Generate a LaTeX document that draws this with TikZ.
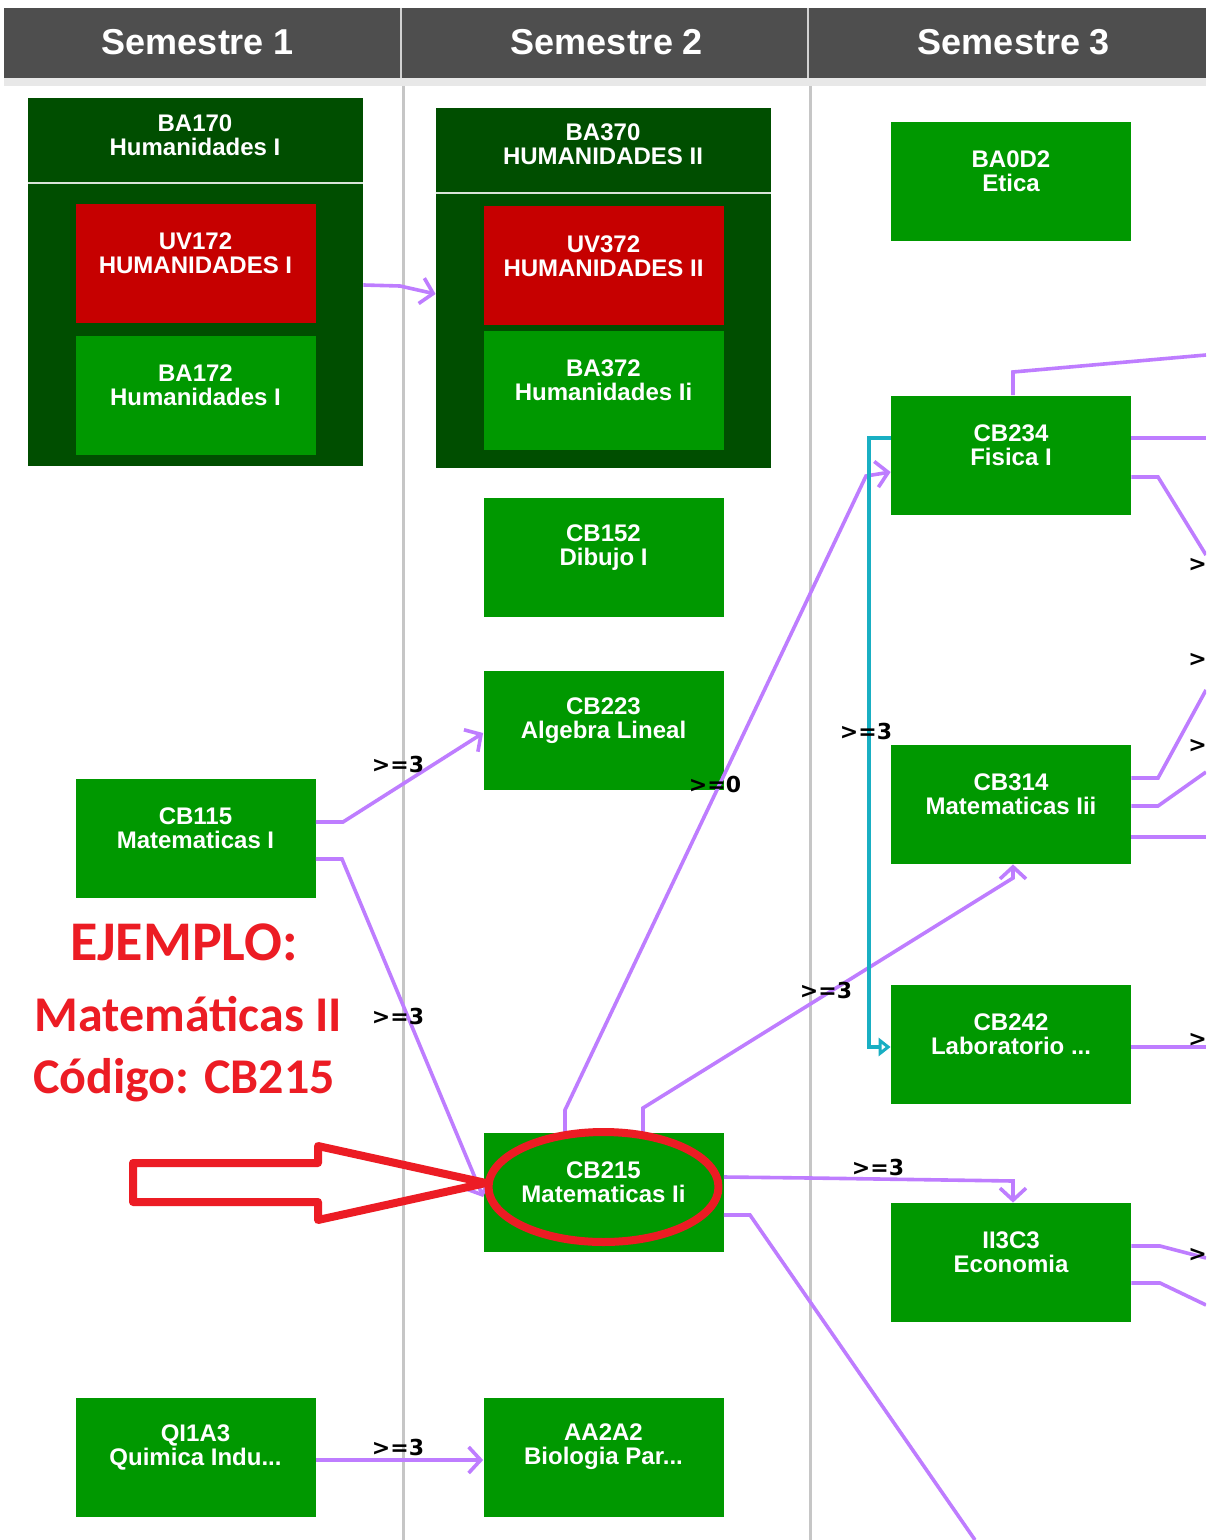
\documentclass[tikz,border=0pt]{standalone}
\usepackage{fontspec}
\setmainfont{Liberation Sans}
\newfontfamily\calibri{Carlito}
\newfontfamily\dejavu{DejaVu Sans}
\usetikzlibrary{arrows.meta,positioning}

\definecolor{verde}{RGB}{0,152,0}
\definecolor{verdeosc}{RGB}{0,78,0}
\definecolor{rojo}{RGB}{198,0,0}
\definecolor{lila}{RGB}{190,125,255}
\definecolor{turq}{RGB}{25,175,195}
\definecolor{gris}{RGB}{78,78,78}
\definecolor{rojoej}{RGB}{236,28,36}

% course box: [colour]{name}{x,y}{code}{title}
\newcommand{\curso}[5][verde]{%
  \node[curso,fill=#1] (#2) at (#3) {};
  \node[cursotxt] (#2-t) at ([yshift=5pt]#2.center) {#4\\#5};
}

\begin{document}
\begin{tikzpicture}[x=0.5pt,y=-0.5pt,
  curso/.style={rectangle,minimum width=120pt,minimum height=59.5pt,inner sep=0pt},
  grupo/.style={rectangle,fill=verdeosc,minimum width=167.5pt,inner sep=0pt},
  cursotxt/.style={text=white,font=\bfseries\fontsize{12}{12}\selectfont,align=center,inner sep=0pt},
  semtxt/.style={text=white,font=\bfseries\fontsize{18}{18}\selectfont},
  etiq/.style={font=\dejavu\bfseries\fontsize{11}{11}\selectfont,inner sep=0pt},
  pre/.style={draw=lila,line width=1.8pt},
  flecha/.style={pre,-{Straight Barb[length=6pt,width=13pt]}},
  enlace/.style={draw=turq,line width=1.6pt,-{Triangle[open,length=6pt,width=9pt]}},
  ejtxt/.style={text=rojoej,font=\calibri\bfseries\fontsize{25}{25}\selectfont,anchor=base,inner sep=0pt},
  marca/.style={draw=rojoej,line width=4pt,line join=round}]

\clip (0,0) rectangle (1206,1540);
\fill[white] (0,0) rectangle (1206,1540);

% Header
\fill[gris] (4,8) rectangle (1206,78);
\fill[gray!18] (4,78) rectangle (1206,86);
\draw[gray!35,line width=1pt] (401,8) -- (401,78) (808,8) -- (808,78);
\foreach \x/\n in {198/1,607/2,1014/3}
  \node[semtxt] (sem\n) at (\x,42) {Semestre \n};

% Column lines
\draw[gray!45,line width=1.5pt] (403,86) -- (403,1540) (810,86) -- (810,1540);

% Semestre 1
\node[grupo,minimum height=184pt] (ba170) at (195.5,282) {};
\draw[white!85!verdeosc,line width=1pt] (ba170.west |- 0,183) -- (ba170.east |- 0,183);
\node[cursotxt] (ba170-t) at (195,135) {BA170\\Humanidades I};
\curso[rojo]{uv172}{195.5,263.5}{UV172}{HUMANIDADES I}
\curso{ba172}{195.5,395.5}{BA172}{Humanidades I}
\curso{cb115}{195.5,838}{CB115}{Matematicas I}
\curso{qi1a3}{195.5,1457}{QI1A3}{Quimica Indu...}

% Semestre 2
\node[grupo,minimum height=180pt] (ba370) at (603.5,288) {};
\draw[white!85!verdeosc,line width=1pt] (ba370.west |- 0,193) -- (ba370.east |- 0,193);
\node[cursotxt] (ba370-t) at (603,144) {BA370\\HUMANIDADES II};
\curso[rojo]{uv372}{603.5,266}{UV372}{HUMANIDADES II}
\curso{ba372}{603.5,390.5}{BA372}{Humanidades Ii}
\curso{cb152}{603.5,557.5}{CB152}{Dibujo I}
\curso{cb223}{603.5,730.5}{CB223}{Algebra Lineal}
\curso{cb215}{603.5,1192.5}{CB215}{Matematicas Ii}
\curso{aa2a2}{603.5,1457}{AA2A2}{Biologia Par...}

% Semestre 3
\curso{ba0d2}{1011,181.5}{BA0D2}{Etica}
\curso{cb234}{1011,455}{CB234}{Fisica I}
\curso{cb314}{1011,804.5}{CB314}{Matematicas Iii}
\curso{cb242}{1011,1044.5}{CB242}{Laboratorio ...}
\curso{ii3c3}{1011,1262.5}{II3C3}{Economia}

% Exits at the right and bottom edge
\coordinate (o1) at (1206,355);
\coordinate (o2) at (1206,438);
\coordinate (o3) at (1206,555);
\coordinate (o4) at (1206,690);
\coordinate (o5) at (1206,772);
\coordinate (o6) at (1206,837);
\coordinate (o7) at (1206,1047);
\coordinate (o8) at (1206,1258);
\coordinate (o9) at (1206,1305);
\coordinate (o10) at (975,1540);

% Prerequisites
\draw[flecha] (ba170.east |- 0,285) -- (400,286) -- (ba370.west |- 0,294);
\draw[flecha] (cb115.east |- 0,822) -- (343,822) -- (cb223.west |- 0,733);
\draw[flecha] (cb115.east |- 0,859) -- (342,859) -- (cb215.west |- 0,1197);
\draw[flecha] (qi1a3.east |- 0,1460) -- (aa2a2.west |- 0,1460);
\draw[flecha] (cb215.north -| 565,0) -- (565,1110) -- (866,476) -- (cb234.west |- 0,472);
\draw[flecha] (cb215.north -| 643,0) -- (643,1108) -- (1013,878) -- (cb314.south -| 1013,0);
\draw[flecha] (cb215.east |- 0,1177) -- (810,1178) -- (1013,1181) -- (ii3c3.north -| 1013,0);
\draw[pre] (cb215.east |- 0,1215) -- (750,1215) -- (o10);
\draw[enlace] (cb234.west |- 0,438) -- (869,438) -- (869,1047) -- (cb242.west |- 0,1047);

\draw[pre] (cb234.north -| 1013,0) -- (1013,372) -- (o1);
\draw[pre] (cb234.east |- 0,438) -- (o2);
\draw[pre] (cb234.east |- 0,477) -- (1158,477) -- (o3);
\draw[pre] (cb314.east |- 0,778) -- (1158,778) -- (o4);
\draw[pre] (cb314.east |- 0,806) -- (1158,806) -- (o5);
\draw[pre] (cb314.east |- 0,837) -- (o6);
\draw[pre] (cb242.east |- 0,1047) -- (o7);
\draw[pre] (ii3c3.east |- 0,1246) -- (1160,1246) -- (o8);
\draw[pre] (ii3c3.east |- 0,1283) -- (1160,1283) -- (o9);

% Labels
\node[etiq] (l1) at (398,764) {>=3};
\node[etiq] (l2) at (398,1016) {>=3};
\node[etiq] (l3) at (398,1447) {>=3};
\node[etiq] (l4) at (715,784) {>=0};
\node[etiq] (l5) at (866,731) {>=3};
\node[etiq] (l6) at (826,990) {>=3};
\node[etiq] (l7) at (878,1167) {>=3};
\foreach \y [count=\i] in {565,660,746,1040,1255}
  \node[etiq,anchor=west] (r\i) at (1188,\y) {>};

% Example note
\node[ejtxt,font=\calibri\bfseries\fontsize{28}{28}\selectfont] (ej1) at (184,960) {EJEMPLO:};
\node[ejtxt] (ej2) at (188.5,1031) {Matemáticas II};
\node[ejtxt] (ej3) at (184,1093) {Código: CB215};

% Red marks
\draw[marca] (133,1163) -- (318,1163) -- (318,1146) -- (486,1183) -- (318,1220) -- (318,1202) -- (133,1202) -- cycle;
\draw[marca] ([yshift=2.75pt]cb215.center) ellipse [x radius=57.5pt,y radius=27.5pt];

\end{tikzpicture}
\end{document}
